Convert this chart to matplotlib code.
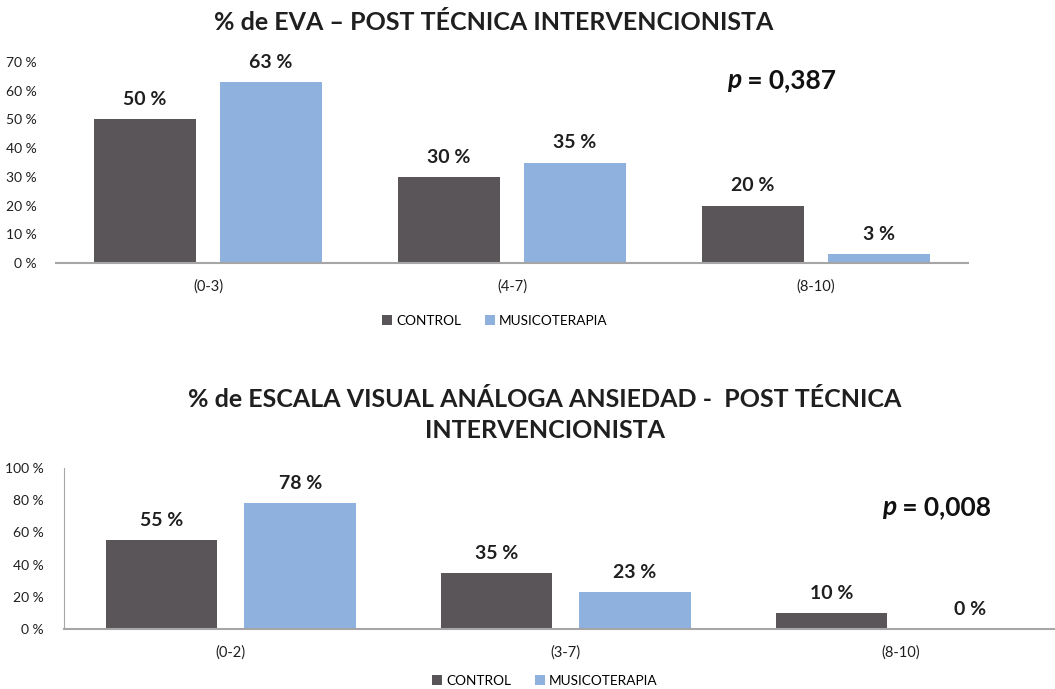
import numpy as np
import matplotlib
matplotlib.use("Agg")
import matplotlib.pyplot as plt

plt.rcParams['font.family'] = ['Lato', 'DejaVu Sans']

# --- DATOS ---
grupos = ['CONTROL', 'MUSICOTERAPIA']
cat_eva = ['(0-3)', '(4-7)', '(8-10)']
control_eva = [50, 30, 20]
musico_eva = [63, 35, 3]
p_eva = '0,387'

cat_ans = ['(0-2)', '(3-7)', '(8-10)']
control_ans = [55, 35, 10]
musico_ans = [78, 23, 0]
p_ans = '0,008'

COL_CONTROL = '#5A5558'
COL_MUSICO = '#8EB1DD'
COL_AXIS = '#A6A6A6'
COL_TEXT = '#1F1F1F'

W, H = 1055, 689
fig = plt.figure(figsize=(W / 100, H / 100), dpi=100)


def px_axes(left, top, right, bottom):
    return fig.add_axes([left / W, 1 - bottom / H, (right - left) / W, (bottom - top) / H])


def barras(ax, cats, control, musico, ymax, paso, left_spine):
    x = np.arange(len(cats))
    ancho = 0.333
    off = 0.207
    ax.bar(x - off, control, ancho, color=COL_CONTROL, label=grupos[0])
    ax.bar(x + off, musico, ancho, color=COL_MUSICO, label=grupos[1])
    for xs, vals in [(x - off, control), (x + off, musico)]:
        for xi, v in zip(xs, vals):
            ax.annotate(f'{v} %', (xi, v), xytext=(0, 8), textcoords='offset points',
                        ha='center', va='bottom', fontsize=14, fontweight='bold', color=COL_TEXT)
    ax.set_xlim(-0.5, len(cats) - 0.5)
    ax.set_ylim(0, ymax)
    ticks = np.arange(0, ymax + 1, paso)
    ax.set_yticks(ticks)
    ax.set_yticklabels([f'{t} %' for t in ticks])
    ax.set_xticks(x)
    ax.set_xticklabels(cats)
    ax.tick_params(axis='both', length=0, colors=COL_TEXT)
    ax.tick_params(axis='x', pad=12, labelsize=10.5)
    ax.tick_params(axis='y', pad=14, labelsize=10)
    for s in ['top', 'right']:
        ax.spines[s].set_visible(False)
    ax.spines['left'].set_visible(left_spine)
    ax.spines['left'].set_color(COL_AXIS)
    ax.spines['bottom'].set_color(COL_AXIS)
    ax.spines['bottom'].set_linewidth(1.5)
    ax.patch.set_alpha(0)


def valor_p(xc, yc, texto):
    fig.text(xc / W, 1 - yc / H, 'p', ha='right', va='center', fontsize=19,
             fontweight='bold', fontstyle='italic', color='#111111')
    fig.text(xc / W, 1 - yc / H, f' = {texto}', ha='left', va='center', fontsize=19,
             fontweight='bold', color='#111111')


def leyenda(ax, xc, yc):
    fig.legend(*ax.get_legend_handles_labels(), loc='center', bbox_to_anchor=(xc / W, 1 - yc / H),
               ncol=2, frameon=False, fontsize=9.8, handlelength=0.7, handleheight=0.7,
               handletextpad=0.3, columnspacing=1.8)


# --- GRAFICO 1 ---
ax1 = px_axes(56, 62, 968, 263)
barras(ax1, cat_eva, control_eva, musico_eva, 70, 10, False)
fig.text(494 / W, 1 - 22 / H, '% de EVA – POST TÉCNICA INTERVENCIONISTA',
         ha='center', va='center', fontsize=18, fontweight='bold', color=COL_TEXT)
valor_p(741, 80, p_eva)
leyenda(ax1, 495, 321)

# --- GRAFICO 2 ---
ax2 = px_axes(63.5, 468, 1068, 629)
barras(ax2, cat_ans, control_ans, musico_ans, 100, 20, True)
fig.text(545 / W, 1 - 415 / H, '% de ESCALA VISUAL ANÁLOGA ANSIEDAD -  POST TÉCNICA\nINTERVENCIONISTA',
         ha='center', va='center', fontsize=18, fontweight='bold', color=COL_TEXT,
         linespacing=1.45)
valor_p(896, 507, p_ans)
leyenda(ax2, 545, 681)

fig.savefig('out.png', dpi=100)
